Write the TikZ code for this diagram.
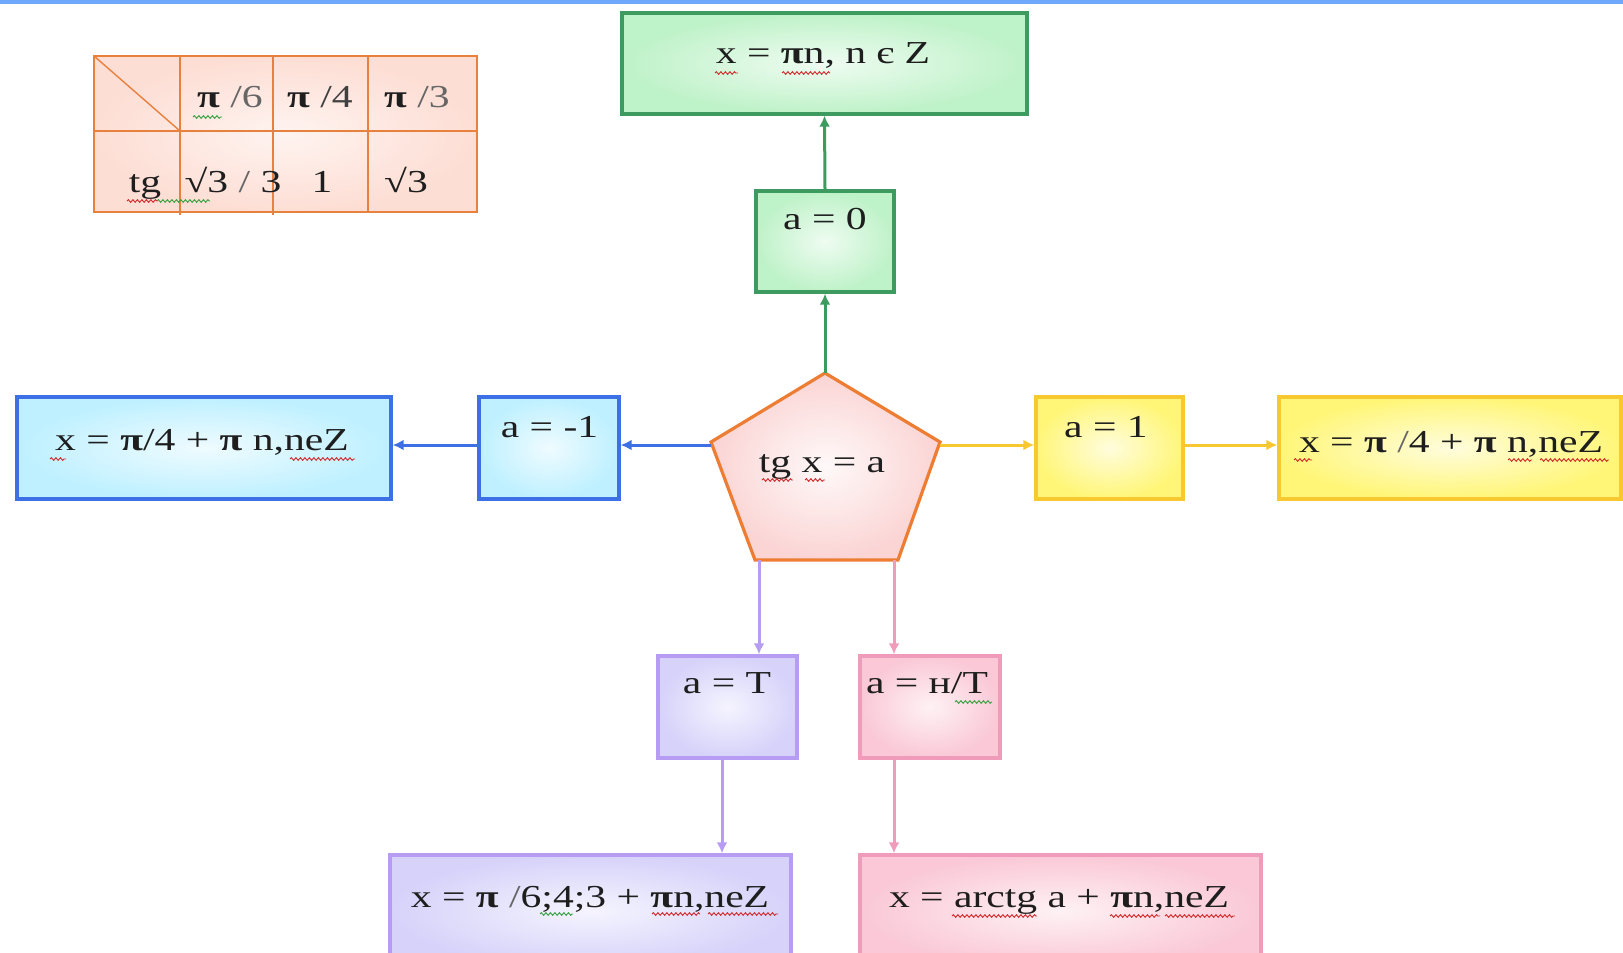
\documentclass[tikz,border=0pt]{standalone}
\usepackage{fontspec}
\setmainfont{Liberation Serif}[FakeStretch=1.3]
\usetikzlibrary{arrows.meta,decorations.pathmorphing}
\definecolor{barc}{RGB}{110,168,250}
\definecolor{gline}{RGB}{62,155,96}
\definecolor{gfill}{RGB}{190,242,200}
\definecolor{bline}{RGB}{60,112,228}
\definecolor{bfill}{RGB}{190,240,255}
\definecolor{yline}{RGB}{248,200,48}
\definecolor{yfill}{RGB}{255,246,120}
\definecolor{vline}{RGB}{182,156,242}
\definecolor{vfill}{RGB}{214,210,250}
\definecolor{kline}{RGB}{240,155,186}
\definecolor{kfill}{RGB}{250,200,214}
\definecolor{oline}{RGB}{238,125,52}
\definecolor{ofill}{RGB}{251,212,212}
\definecolor{tline}{RGB}{232,128,62}
\definecolor{tfill}{RGB}{253,222,212}
\definecolor{txtc}{RGB}{30,30,30}
\definecolor{sqr}{RGB}{210,40,40}
\definecolor{sqg}{RGB}{50,160,60}
\begin{document}
\begin{tikzpicture}[x=1pt,y=-1pt,
  txt/.style={inner sep=0pt, anchor=base, font=\fontsize{32}{38}\selectfont, text=txtc},
  box/.style={draw, line width=3.4pt, inner sep=0pt, shade},
  gbox/.style={box, draw=gline, outer color=gfill, inner color=gfill!25!white},
  bbox/.style={box, draw=bline, outer color=bfill, inner color=bfill!25!white},
  ybox/.style={box, draw=yline, outer color=yfill, inner color=yfill!25!white},
  vbox/.style={box, draw=vline, outer color=vfill, inner color=vfill!25!white},
  kbox/.style={box, draw=kline, outer color=kfill, inner color=kfill!25!white},
  conn/.style={line width=3pt, -{Latex[length=11pt,width=11pt]}},
  wavy/.style={decorate, decoration={snake, amplitude=1.3pt, segment length=4.5pt}, line width=0.9pt},
  tabline/.style={draw=tline, line width=2.4pt}
]
\clip (0,0) rectangle (1623,953);
\fill[barc] (0,0) rectangle (1623,4);

% table
\shade[outer color=tfill, inner color=tfill!35!white] (94,56) rectangle (477,212);
\draw[tabline] (94,56) rectangle (477,212);
\draw[tabline] (94,131) -- (477,131);
\draw[tabline] (180,56) -- (180,215);
\draw[tabline] (273,56) -- (273,215);
\draw[tabline] (368,56) -- (368,212);
\draw[draw=tline, line width=1.4pt] (94,56) -- (180,131);
\node[txt] (t11) at (230,107) {\textbf{π} \textcolor{black!60}{/6}};
\node[txt] (t12) at (320,107) {\textbf{π} \textcolor{black!75}{/4}};
\node[txt] (t13) at (417,107) {\textbf{π} \textcolor{black!60}{/3}};
\node[txt] (t21) at (145,192) {tg};
\node[txt] (t22) at (233,192) {√3 \textcolor{black!60}{/} 3};
\node[txt] (t23) at (322,192) {1};
\node[txt] (t24) at (406,192) {√3};

% boxes
\node[gbox, minimum width=405pt, minimum height=101pt] (top) at (824.5,63.5) {};
\node[gbox, minimum width=138pt, minimum height=101pt] (a0) at (825,241.5) {};
\node[bbox, minimum width=374pt, minimum height=102pt] (bl) at (204,448) {};
\node[bbox, minimum width=140pt, minimum height=102pt] (am1) at (549,448) {};
\node[ybox, minimum width=147pt, minimum height=102pt] (a1) at (1109.5,448) {};
\node[ybox, minimum width=342pt, minimum height=102pt] (yl) at (1450,448) {};
\node[vbox, minimum width=139pt, minimum height=102pt] (aT) at (727.5,707) {};
\node[kbox, minimum width=140pt, minimum height=102pt] (aNT) at (930,707) {};
\node[vbox, minimum width=401pt, minimum height=112pt] (pu) at (590.5,911) {};
\node[kbox, minimum width=401pt, minimum height=112pt] (pk) at (1060.5,911) {};

% pentagon
\coordinate (pT) at (825,373);
\coordinate (pR) at (940,442);
\coordinate (pBR) at (898,560);
\coordinate (pBL) at (755,560);
\coordinate (pL) at (711,442);
\path[draw=oline, line width=3.2pt, shade, outer color=ofill, inner color=ofill!15!white, line join=miter]
  (pT) -- (pR) -- (pBR) -- (pBL) -- (pL) -- cycle;
\coordinate (pL1) at (711,445);
\coordinate (pR1) at (940,445);
\coordinate (pB1) at (759,560);
\coordinate (pB2) at (894,560);

% texts
\node[txt] (topt) at (823,63) {x = \textbf{π}n, n є Z};
\node[txt] (a0t) at (825,229) {a = 0};
\node[txt] (pt) at (822,472) {tg x = a};
\node[txt] (blt) at (202,450) {x = \textbf{π}/4 + \textbf{π} n,neZ};
\node[txt] (am1t) at (549.5,437) {a = -1};
\node[txt] (a1t) at (1106,437) {a = 1};
\node[txt] (ylt) at (1451,452) {x = \textbf{π} \textcolor{black!60}{/}4 + \textbf{π} n,neZ};
\node[txt] (aTt) at (727,693) {a = T};
\node[txt] (aNTt) at (927,693) {a = н/T};
\node[txt] (put) at (590,907) {x = \textbf{π} \textcolor{black!60}{/}6;4;3 + \textbf{π}n,neZ};
\node[txt] (pkt) at (1059,907) {x = arctg a + \textbf{π}n,neZ};

% connectors
\draw[conn, gline] (pT) -- (a0.south);
\draw[conn, gline] (a0.north) -- (top.south);
\draw[conn, bline] (pL1) -- (pL1 -| am1.east);
\draw[conn, bline] (pL1 -| am1.west) -- (pL1 -| bl.east);
\draw[conn, yline] (pR1) -- (pR1 -| a1.west);
\draw[conn, yline] (pR1 -| a1.east) -- (pR1 -| yl.west);
\draw[conn, vline] (pB1) -- (pB1 |- aT.north);
\draw[conn, vline] ([xshift=-5.5pt]aT.south) -- ([xshift=-5.5pt]aT.south |- pu.north);
\draw[conn, kline] (pB2) -- (pB2 |- aNT.north);
\draw[conn, kline] (pB2 |- aNT.south) -- (pB2 |- pu.north);

% spell-check squiggles
\draw[wavy, sqr] (715,73) -- (738,73);
\draw[wavy, sqr] (782,73) -- (830,73);
\draw[wavy, sqg] (193,117) -- (222,117);
\draw[wavy, sqr] (127,201) -- (157,201);
\draw[wavy, sqg] (157,201) -- (210,201);
\draw[wavy, sqr] (762,480) -- (793,480);
\draw[wavy, sqr] (805,480) -- (825,480);
\draw[wavy, sqr] (50,459) -- (66,459);
\draw[wavy, sqr] (290,459) -- (355,459);
\draw[wavy, sqr] (1294,460) -- (1312,460);
\draw[wavy, sqr] (1508,460) -- (1532,460);
\draw[wavy, sqr] (1540,460) -- (1609,460);
\draw[wavy, sqg] (540,914) -- (573,914);
\draw[wavy, sqr] (652,914) -- (700,914);
\draw[wavy, sqr] (708,914) -- (778,914);
\draw[wavy, sqg] (955,702) -- (992,702);
\draw[wavy, sqr] (952,916) -- (1037,916);
\draw[wavy, sqr] (1110,916) -- (1160,916);
\draw[wavy, sqr] (1165,916) -- (1235,916);
\end{tikzpicture}
\end{document}
